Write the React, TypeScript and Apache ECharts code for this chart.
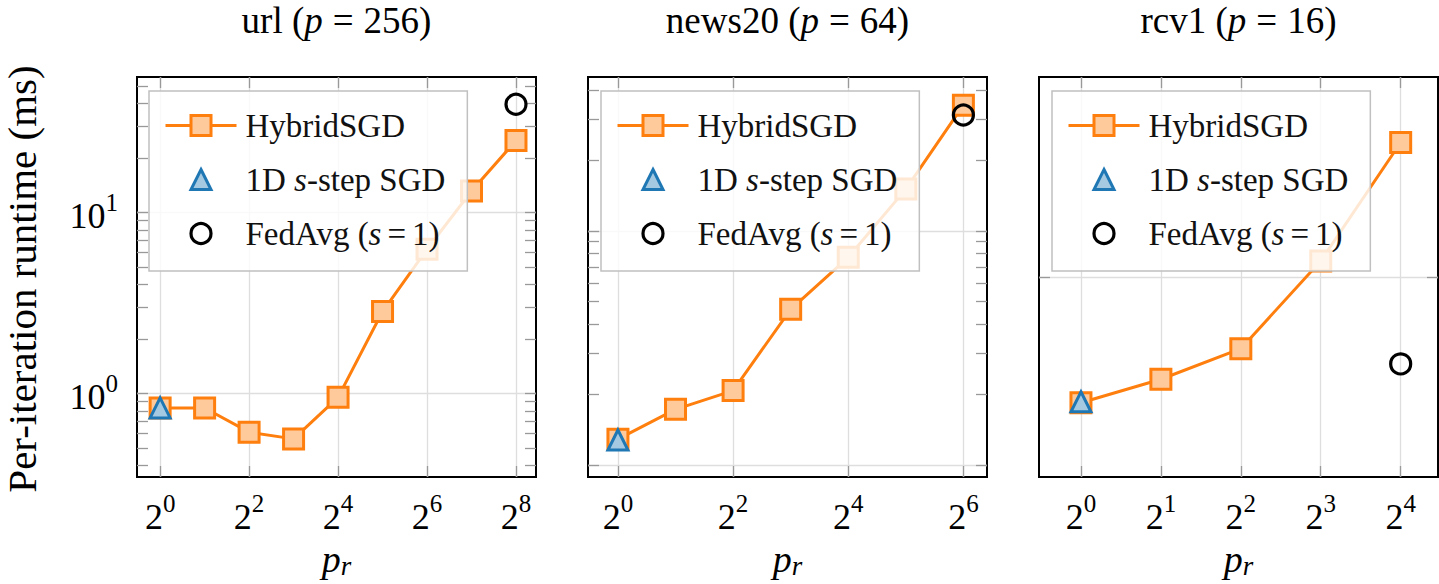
import { useEffect, useRef } from "react";
import * as echarts from "echarts";

const SERIF = '"Liberation Serif", "Times New Roman", serif';

// ---- texts ----
const datasets = ["url", "news20", "rcv1"];
const procCounts = ["256", "64", "16"];
const seriesNames = ["HybridSGD", "1D s-step SGD", "FedAvg (s=1)"];
const yAxisTitle = "Per-iteration runtime (ms)";

// ---- url (p=256) ----
const urlPr = [1, 2, 4, 8, 16, 32, 64, 128, 256];
const urlHybrid = [0.83, 0.83, 0.61, 0.56, 0.95, 2.83, 6.25, 13.1, 24.9];
const urlOneDPr = [1];
const urlOneD = [0.83];
const urlFedAvgPr = [256];
const urlFedAvg = [39.5];

// ---- news20 (p=64) ----
const news20Pr = [1, 2, 4, 8, 16, 32, 64];
const news20Hybrid = [1.29, 1.73, 2.08, 4.63, 7.72, 15.1, 34.5];
const news20OneDPr = [1];
const news20OneD = [1.28];
const news20FedAvgPr = [64];
const news20FedAvg = [31.3];

// ---- rcv1 (p=16) ----
const rcv1Pr = [1, 2, 4, 8, 16];
const rcv1Hybrid = [0.114, 0.171, 0.29, 1.32, 10.2];
const rcv1OneDPr = [1];
const rcv1OneD = [0.116];
const rcv1FedAvgPr = [16];
const rcv1FedAvg = [0.223];

// ---- ticks ----
const urlXTicks = [1, 4, 16, 64, 256];
const news20XTicks = [1, 4, 16, 64];
const rcv1XTicks = [1, 2, 4, 8, 16];
const urlYMajor = [1, 10];
const urlYMinor = [0.4, 0.5, 0.6, 0.7, 0.8, 0.9, 2, 3, 4, 5, 6, 7, 8, 9, 20, 30, 40, 50];
const news20YMajor = [1, 10];
const news20YMinor = [2, 3, 4, 5, 6, 7, 8, 9, 20, 30, 40];
const rcv1YMajor = [1];
const rcv1YMinor: number[] = [];
const urlYLabels = [1, 10];

// ---- axis extents (exponents: log2 for p_r, log10 for runtime) ----
const urlXRange = [-0.52, 8.45];
const news20XRange = [-0.52, 6.41];
const rcv1XRange = [-0.525, 4.467];
const urlYRange = [-0.4624, 1.7475];
const news20YRange = [-0.051, 1.658];
const rcv1YRange = [-1.5, 1.5];

const panels = [
  { pr: urlPr, hybrid: urlHybrid, oneDPr: urlOneDPr, oneD: urlOneD, fedPr: urlFedAvgPr, fed: urlFedAvg,
    xTicks: urlXTicks, yMajor: urlYMajor, yMinor: urlYMinor, yLabels: urlYLabels, xRange: urlXRange, yRange: urlYRange },
  { pr: news20Pr, hybrid: news20Hybrid, oneDPr: news20OneDPr, oneD: news20OneD, fedPr: news20FedAvgPr, fed: news20FedAvg,
    xTicks: news20XTicks, yMajor: news20YMajor, yMinor: news20YMinor, yLabels: [] as number[], xRange: news20XRange, yRange: news20YRange },
  { pr: rcv1Pr, hybrid: rcv1Hybrid, oneDPr: rcv1OneDPr, oneD: rcv1OneD, fedPr: rcv1FedAvgPr, fed: rcv1FedAvg,
    xTicks: rcv1XTicks, yMajor: rcv1YMajor, yMinor: rcv1YMinor, yLabels: [] as number[], xRange: rcv1XRange, yRange: rcv1YRange },
];

const PANEL_LEFT = [137, 588, 1039];
const PANEL_TOP = 77;
const PANEL_W = 399;
const PANEL_H = 400;
const LEGEND_LEFT = [149, 601, 1052];

const ORANGE = "#ff7f0e";
const ORANGE_FILL = "#ffca9b";
const BLUE = "#1f77b4";
const BLUE_FILL = "#a6c9e2";
const TICK = { color: "#999999", width: 1.3 };
const GRID_LINE = { color: "#dedede", width: 1.3 };

function font(size: number, extra: any = {}) {
  return { fontSize: size, fontFamily: SERIF, color: "#000", ...extra };
}

function buildOption() {
  const grid: any[] = [];
  const xAxis: any[] = [];
  const yAxis: any[] = [];
  const series: any[] = [];
  const legend: any[] = [];
  const graphic: any[] = [];

  panels.forEach((p, i) => {
    grid.push({
      left: PANEL_LEFT[i], top: PANEL_TOP, width: PANEL_W, height: PANEL_H,
      show: true, borderColor: "#000", borderWidth: 2, backgroundColor: "transparent",
      containLabel: false, outerBoundsMode: "none",
    });
    const xmin = Math.pow(2, p.xRange[0]);
    const xmax = Math.pow(2, p.xRange[1]);
    const ymin = Math.pow(10, p.yRange[0]);
    const ymax = Math.pow(10, p.yRange[1]);

    // bottom x axis
    xAxis.push({
      type: "log", logBase: 2, gridIndex: i, position: "bottom", min: xmin, max: xmax,
      axisLine: { show: false },
      axisTick: { show: true, inside: true, length: 11, lineStyle: TICK, customValues: p.xTicks },
      axisLabel: {
        show: true, customValues: p.xTicks, margin: 14,
        formatter: (v: number) => `{b|2}{s|${Math.round(Math.log2(v))}}`,
        rich: {
          b: font(36, { lineHeight: 44, verticalAlign: "bottom" }),
          s: font(25, { lineHeight: 25, verticalAlign: "top" }),
        },
      },
      splitLine: { show: true, lineStyle: GRID_LINE },
      minorTick: { show: false }, minorSplitLine: { show: false },
      name: "{p|p}{r|r}", nameLocation: "middle", nameGap: 61,
      nameTextStyle: {
        rich: {
          p: font(38, { fontStyle: "italic", lineHeight: 40, verticalAlign: "top" }),
          r: font(27, { fontStyle: "italic", lineHeight: 27, verticalAlign: "bottom" }),
        },
      },
    });
    // top x axis (mirrored ticks)
    xAxis.push({
      type: "log", logBase: 2, gridIndex: i, position: "top", min: xmin, max: xmax,
      axisLine: { show: false },
      axisTick: { show: true, inside: true, length: 11, lineStyle: TICK, customValues: p.xTicks },
      axisLabel: { show: false },
      splitLine: { show: false },
    });

    // left y axis: major ticks, grid lines, labels
    yAxis.push({
      type: "log", logBase: 10, gridIndex: i, position: "left", min: ymin, max: ymax,
      axisLine: { show: false },
      axisTick: { show: true, inside: true, length: 11, lineStyle: TICK, customValues: p.yMajor },
      axisLabel: {
        show: p.yLabels.length > 0, customValues: p.yLabels, margin: 19,
        formatter: (v: number) => `{b|10}{s|${Math.round(Math.log10(v))}}`,
        rich: {
          b: font(36, { lineHeight: 44, verticalAlign: "bottom" }),
          s: font(25, { lineHeight: 25, verticalAlign: "top" }),
        },
      },
      splitLine: { show: true, lineStyle: GRID_LINE },
    });
    // left y axis: minor ticks
    yAxis.push({
      type: "log", logBase: 10, gridIndex: i, position: "left", min: ymin, max: ymax,
      axisLine: { show: false },
      axisTick: { show: p.yMinor.length > 0, inside: true, length: 11, lineStyle: TICK, customValues: p.yMinor.length ? p.yMinor : [ymin] },
      axisLabel: { show: false },
      splitLine: { show: false },
    });
    // right y axis: all ticks mirrored
    yAxis.push({
      type: "log", logBase: 10, gridIndex: i, position: "right", min: ymin, max: ymax,
      axisLine: { show: false },
      axisTick: { show: true, inside: true, length: 11, lineStyle: TICK, customValues: [...p.yMajor, ...p.yMinor] },
      axisLabel: { show: false },
      splitLine: { show: false },
    });

    const xIdx = i * 2;
    const yIdx = i * 3;
    series.push({
      name: seriesNames[0], type: "line", xAxisIndex: xIdx, yAxisIndex: yIdx,
      data: p.pr.map((v, k) => [v, p.hybrid[k]]),
      symbol: "rect", symbolSize: 20,
      itemStyle: { color: ORANGE_FILL, borderColor: ORANGE, borderWidth: 3 },
      lineStyle: { color: ORANGE, width: 3 },
      emphasis: { disabled: true }, z: 2,
    });
    series.push({
      name: seriesNames[1], type: "line", xAxisIndex: xIdx, yAxisIndex: yIdx,
      data: p.oneDPr.map((v, k) => [v, p.oneD[k]]),
      symbol: "triangle", symbolSize: 20,
      itemStyle: { color: BLUE_FILL, borderColor: BLUE, borderWidth: 3 },
      lineStyle: { color: BLUE, width: 0, opacity: 0 },
      emphasis: { disabled: true }, z: 3,
    });
    series.push({
      name: seriesNames[2], type: "line", xAxisIndex: xIdx, yAxisIndex: yIdx,
      data: p.fedPr.map((v, k) => [v, p.fed[k]]),
      symbol: "circle", symbolSize: 20,
      itemStyle: { color: "rgba(255,255,255,0)", borderColor: "#000", borderWidth: 3.2 },
      lineStyle: { color: "#000", width: 0, opacity: 0 },
      emphasis: { disabled: true }, z: 4,
    });

    const legendText: Record<string, string> = {
      [seriesNames[0]]: "HybridSGD",
      [seriesNames[1]]: "1D {i|s}-step SGD",
      [seriesNames[2]]: "FedAvg ({i|s}{e|=}1)",
    };
    legend.push({
      show: true, orient: "vertical", left: LEGEND_LEFT[i], top: 91,
      data: seriesNames, selectedMode: false,
      padding: [18, 22, 21, 15], itemGap: 21, itemWidth: 71, itemHeight: 25,
      backgroundColor: "rgba(255,255,255,0.82)", borderColor: "#c0c0c0", borderWidth: 1.5, borderRadius: 0,
      itemStyle: { borderWidth: "inherit" },
      lineStyle: { width: "inherit", opacity: "inherit" },
      formatter: (name: string) => legendText[name],
      textStyle: {
        fontSize: 33, fontFamily: SERIF, color: "#111", lineHeight: 25, padding: [0, 0, 0, 4],
        rich: {
          i: { fontSize: 33, fontFamily: SERIF, color: "#111", fontStyle: "italic", lineHeight: 25 },
          e: { fontSize: 33, fontFamily: SERIF, color: "#111", lineHeight: 25, padding: [0, 6, 0, 6] },
        },
      },
    });

    graphic.push({
      type: "text", x: PANEL_LEFT[i] + PANEL_W / 2, y: 0,
      style: {
        text: `${datasets[i]} ({i|p}{e|=}${procCounts[i]})`,
        fontSize: 37, fontFamily: SERIF, fill: "#000", align: "center", verticalAlign: "top", lineHeight: 40,
        rich: {
          i: { fontSize: 37, fontFamily: SERIF, fontStyle: "italic", fill: "#000", lineHeight: 40 },
          e: { fontSize: 37, fontFamily: SERIF, fill: "#000", lineHeight: 40, padding: [0, 10, 0, 10] },
        },
      },
    });
  });

  graphic.push({
    type: "text", x: 22, y: PANEL_TOP + PANEL_H / 2 + 2, rotation: Math.PI / 2,
    style: { text: yAxisTitle, fontSize: 41, fontFamily: SERIF, fill: "#000", align: "center", verticalAlign: "middle" },
  });

  return {
    animation: false,
    backgroundColor: "#fff",
    grid, xAxis, yAxis, series, legend,
    graphic: { elements: graphic },
  };
}

export default function App() {
  const ref = useRef<HTMLDivElement>(null);
  useEffect(() => {
    document.body.style.margin = "0";
    const chart = echarts.init(ref.current!, null, { renderer: "svg" });
    chart.setOption(buildOption() as any);
    return () => chart.dispose();
  }, []);
  return (
    <div
      ref={ref}
      style={{ position: "absolute", left: 0, top: 0, width: 1439, height: 584, background: "#fff" }}
    />
  );
}
